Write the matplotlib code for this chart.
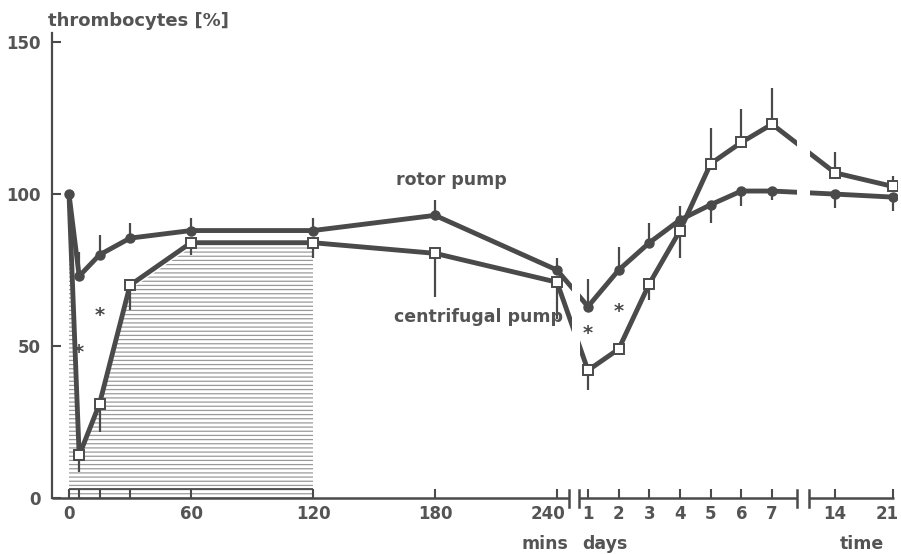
import numpy as np
import matplotlib
matplotlib.use("Agg")
import matplotlib.pyplot as plt

# ---------------- data ----------------
MIN_PER_DAY = 1440
minutes = [0, 5, 15, 30, 60, 120, 180, 240]
days = [1, 2, 3, 4, 5, 6, 7, 14, 21]

rotor = [100, 73, 80, 85.5, 88, 88, 93, 75, 63, 75, 84, 91.5, 96.5, 101, 101, 100, 99]
rotor_err_up = [0, 8, 6.5, 5, 4, 4, 5, 4, 9, 7.5, 6.5, 4.5, 0, 0, 0, 0, 0]
rotor_err_down = [0, 0, 0, 0, 0, 0, 0, 0, 0, 0, 0, 0, 6, 5, 3, 4.5, 4.5]

centrifugal = [100, 14, 31, 70, 84, 84, 80.5, 71, 42, 49, 70.5, 88, 110, 117, 123, 107, 102.5]
centrifugal_err_up = [0, 0, 0, 0, 0, 0, 0, 0, 0, 0, 0, 0, 11.7, 11, 12, 7, 3.5]
centrifugal_err_down = [0, 5.5, 9.3, 8, 4, 5, 14.5, 12, 6.5, 0, 5.5, 9, 0, 0, 0, 0, 0]

minute_ticks = [0, 60, 120, 180, 240]
minor_minute_ticks = [5, 15, 30]
day_ticks = [1, 2, 3, 4, 5, 6, 7, 14, 21]
y_ticks = [0, 50, 100, 150]
hatch_end_minute = 120

star_minutes = [5, 15]
star_days = [1, 2]
star_minute_y = [48, 60]
star_day_y = [54, 61.5]

# time in minutes for every point
t = np.array(minutes + [d * MIN_PER_DAY for d in days], dtype=float)

# ---------------- broken time scale (piecewise linear) ----------------
scale_t = np.array([-1000, 0, 240, 1440, 10080, 20160, 30240, 40320], dtype=float)
scale_p = np.array([69 - 2033, 69, 557, 588, 772, 835, 893, 951], dtype=float)


def fwd(x):
    return np.interp(x, scale_t, scale_p)


def inv(p):
    return np.interp(p, scale_p, scale_t)


INK = "#4a4a4a"
TXT = "#545454"
plt.rcParams["font.family"] = ["DejaVu Sans"]
plt.rcParams["font.weight"] = "bold"
plt.rcParams["hatch.linewidth"] = 0.9

fig = plt.figure(figsize=(9.01, 5.54), dpi=100)
W, H = 901, 554
ax_l, ax_r, ax_b, ax_t = 52, 897, 498, 33
ax = fig.add_axes([ax_l / W, 1 - ax_b / H, (ax_r - ax_l) / W, (ax_b - ax_t) / H])
ax.set_xscale("function", functions=(fwd, inv))
ax.set_xlim(inv(ax_l), inv(ax_r))
ax.set_ylim(0, 153)

# hatched area under centrifugal curve during bypass
n_h = minutes.index(hatch_end_minute) + 1
ax.fill_between(t[:n_h], 0, np.array(centrifugal[:n_h]) - 1.5, facecolor="none",
                edgecolor="#9a9a9a", hatch="----", linewidth=0, zorder=1)
ax.hlines(3, 0, hatch_end_minute, color=INK, lw=1.3, zorder=2)

# error bars
ax.errorbar(t, rotor, yerr=[rotor_err_down, rotor_err_up], fmt="none",
            ecolor=INK, elinewidth=1.6, capsize=0, zorder=2)
ax.errorbar(t, centrifugal, yerr=[centrifugal_err_down, centrifugal_err_up], fmt="none",
            ecolor=INK, elinewidth=1.6, capsize=0, zorder=2)

# series (both start from the same baseline point, drawn as a filled dot)
ax.plot(t, centrifugal, color=INK, lw=3.5, marker="s", ms=7.5, mfc="white",
        mec=INK, mew=1.4, zorder=3, solid_joinstyle="round",
        markevery=list(range(1, len(t))))
ax.plot(t, rotor, color=INK, lw=3.5, marker="o", ms=6.5, mfc=INK, mec=INK,
        zorder=4, solid_joinstyle="round")

# gaps at the axis breaks (axes fraction)
aw = ax_r - ax_l
ah = ax_b - ax_t
for g0, g1 in [(572, 580), (797, 810)]:
    ax.add_patch(plt.Rectangle(((g0 - ax_l) / aw, 0.012), (g1 - g0) / aw, 0.99,
                               transform=ax.transAxes, color="white", zorder=5, lw=0))

# asterisks
for xx, yy in zip(star_minutes + [d * MIN_PER_DAY for d in star_days],
                  star_minute_y + star_day_y):
    ax.text(xx, yy, "*", ha="center", va="center", fontsize=14, color=INK, zorder=6)

# axes, spines, ticks
for s in ["top", "right", "bottom"]:
    ax.spines[s].set_visible(False)
ax.spines["left"].set_color(INK)
ax.spines["left"].set_linewidth(1.6)

segments = [(ax_l, 569), (579, 797), (809, 894)]
for a, b in segments:
    ax.plot([(a - ax_l) / aw, (b - ax_l) / aw], [0, 0], transform=ax.transAxes,
            color=INK, lw=1.8, clip_on=False, zorder=7, solid_capstyle="butt")
bar = 9 / ah
for xb in [569, 579, 797, 809]:
    ax.plot([(xb - ax_l) / aw] * 2, [-bar, bar * 0.9], transform=ax.transAxes,
            color=INK, lw=1.8, clip_on=False, zorder=7)

major = minute_ticks + [d * MIN_PER_DAY for d in day_ticks]
labels = [str(m) for m in minute_ticks] + [str(d) for d in day_ticks]
labels[minute_ticks.index(240)] = ""
labels[-1] = ""
ax.set_xticks(major)
ax.set_xticklabels(labels)
ax.set_xticks(minor_minute_ticks, minor=True)
ax.tick_params(axis="x", which="both", direction="in", length=6.5, width=1.5,
               color=INK, labelsize=12, labelcolor=TXT, pad=5)
ax.annotate("240", xy=(240, 0), xycoords=("data", "axes fraction"),
            xytext=(-9, -7), textcoords="offset pixels", ha="center", va="top",
            fontsize=12, color=TXT, fontweight="bold")
ax.annotate(str(day_ticks[-1]), xy=(day_ticks[-1] * MIN_PER_DAY, 0),
            xycoords=("data", "axes fraction"),
            xytext=(-6, -7), textcoords="offset pixels", ha="center", va="top",
            fontsize=12, color=TXT, fontweight="bold")

ax.set_yticks(y_ticks)
ax.set_yticklabels([str(v) for v in y_ticks])
ax.tick_params(axis="y", direction="in", length=6.5, width=1.5, color=INK,
               labelsize=12, labelcolor=TXT, pad=8)

# texts
fig.text(48 / W, 1 - 21 / H, "thrombocytes [%]", ha="left", va="center",
         fontsize=13, color=TXT, fontweight="bold")
fig.text(451 / W, 1 - 180 / H, "rotor pump", ha="center", va="center",
         fontsize=12.5, color=TXT, fontweight="bold")
fig.text(478 / W, 1 - 317 / H, "centrifugal pump", ha="center", va="center",
         fontsize=12.5, color=TXT, fontweight="bold")
fig.text(545 / W, 1 - 544 / H, "mins", ha="center", va="center",
         fontsize=12.5, color=TXT, fontweight="bold")
fig.text(605 / W, 1 - 544 / H, "days", ha="center", va="center",
         fontsize=12.5, color=TXT, fontweight="bold")
fig.text(862 / W, 1 - 544 / H, "time", ha="center", va="center",
         fontsize=12.5, color=TXT, fontweight="bold")

fig.savefig("out.png", dpi=100)
